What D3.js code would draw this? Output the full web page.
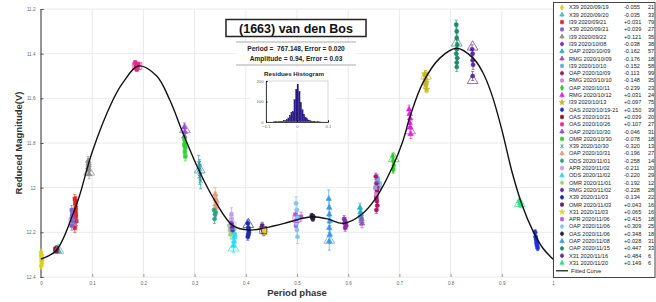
<!DOCTYPE html>
<html>
<head>
<meta charset="utf-8">
<script src="https://cdn.jsdelivr.net/npm/d3@7"></script>
<style>
  body { margin: 0; background: #fff; }
  svg { font-family: "Liberation Sans", Arial, sans-serif; }
</style>
</head>
<body>
<div id="chart-area"></div>
<script>
// ---- data ----
const xTicks = [0, 0.1, 0.2, 0.3, 0.4, 0.5, 0.6, 0.7, 0.8, 0.9, 1];
const yTicks = [11.2, 11.4, 11.6, 11.8, 12, 12.2, 12.4];

const curvePhase = [0, 0.03, 0.063, 0.076, 0.1, 0.14, 0.16, 0.19, 0.226, 0.252, 0.278, 0.31, 0.34, 0.375, 0.408, 0.437, 0.475, 0.506, 0.53, 0.56, 0.59, 0.626, 0.656, 0.688, 0.707, 0.721, 0.746, 0.779, 0.812, 0.844, 0.862, 0.88, 0.9, 0.92, 0.94, 0.96, 0.98, 1];
const curveMag = [12.32, 12.28, 12.115, 12.03, 11.84, 11.61, 11.53, 11.455, 11.5, 11.61, 11.76, 11.93, 12.06, 12.17, 12.19, 12.18, 12.16, 12.14, 12.13, 12.14, 12.16, 12.12, 12.04, 11.9, 11.79, 11.68, 11.53, 11.42, 11.376, 11.42, 11.48, 11.58, 11.74, 11.93, 12.08, 12.19, 12.27, 12.32];

const sessionNames = [
  "X39 2020/09/19", "X39 2020/09/20", "I39 2020/09/21", "X39 2020/09/21", "I39 2020/09/22",
  "I39 2020/10/08", "OAP 2020/10/09", "RMG 2020/10/09", "I39 2020/10/10", "OAP 2020/10/09",
  "RMG 2020/10/10", "OAP 2020/10/11", "RMG 2020/10/12", "I39 2020/10/13", "OAS 2020/10/19-21",
  "OAS 2020/10/21", "OAS 2020/10/26", "OAP 2020/10/30", "OMR 2020/10/30", "X39 2020/10/30",
  "OAP 2020/10/31", "ODS 2020/11/01", "APR 2020/11/02", "ODS 2020/11/02", "OMR 2020/11/01",
  "RMG 2020/11/02", "X39 2020/11/03", "OMR 2020/11/03", "X31 2020/11/03", "APR 2020/11/06",
  "OAP 2020/11/06", "OAS 2020/11/06", "OAP 2020/11/08", "OAP 2020/11/15", "X31 2020/11/16",
  "X31 2020/11/20"
];
const sessionOffsets = [
  "-0.055", "-0.035", "+0.031", "+0.039", "+0.121", "-0.038", "-0.162", "-0.176", "-0.152", "-0.113",
  "-0.148", "-0.239", "+0.031", "+0.097", "+0.150", "+0.039", "+0.107", "-0.046", "-0.078", "-0.320",
  "-0.196", "-0.258", "-0.211", "-0.220", "-0.192", "-0.228", "-0.134", "+0.043", "+0.065", "+0.415",
  "+0.309", "+0.348", "+0.028", "+0.447", "+0.484", "+0.149"
];
const sessionCounts = [21, 33, 79, 27, 35, 38, 57, 18, 58, 99, 35, 23, 24, 75, 39, 20, 27, 31, 18, 13,
  27, 14, 20, 29, 12, 28, 22, 16, 16, 18, 25, 18, 31, 33, 6, 6];

// [phase, reduced magnitude] of the plotted measurements, per session
const sessionPoints = [
  [[0.000, 12.29], [0.001, 12.30], [0.001, 12.31], [0.002, 12.32], [0.001, 12.33], [0.002, 12.34], [0.000, 12.35], [0.001, 12.32], [0.000, 12.305], [0.002, 12.325]],
  [[0.031, 12.275], [0.033, 12.28], [0.035, 12.285]],
  [[0.066, 12.05], [0.067, 12.07], [0.068, 12.09], [0.067, 12.11], [0.068, 12.13], [0.069, 12.15], [0.068, 12.12], [0.066, 12.18], [0.067, 12.10], [0.068, 12.06]],
  [[0.060, 12.10], [0.061, 12.13], [0.062, 12.15], [0.060, 12.17], [0.061, 12.12]],
  [[0.092, 11.88], [0.093, 11.90], [0.093, 11.92], [0.094, 11.94], [0.092, 11.91], [0.093, 11.89]],
  [[0.592, 12.14], [0.594, 12.15], [0.595, 12.16], [0.596, 12.17], [0.594, 12.18], [0.593, 12.16]],
  [[0.623, 12.09], [0.624, 12.11], [0.625, 12.13], [0.626, 12.15], [0.625, 12.12]],
  [[0.626, 12.14], [0.627, 12.16]],
  [[0.658, 11.96], [0.659, 11.98], [0.660, 12.00]],
  [[0.654, 11.95], [0.655, 11.98], [0.656, 12.00], [0.657, 12.02], [0.655, 12.04], [0.656, 12.06], [0.657, 12.08], [0.655, 12.10], [0.656, 12.01], [0.655, 12.05]],
  [[0.653, 12.00], [0.655, 12.03]],
  [[0.687, 11.86], [0.688, 11.88], [0.689, 11.90], [0.688, 11.92]],
  [[0.719, 11.65], [0.720, 11.67], [0.721, 11.69], [0.720, 11.71], [0.721, 11.73], [0.722, 11.76]],
  [[0.750, 11.49], [0.751, 11.50], [0.752, 11.52], [0.751, 11.54], [0.753, 11.56], [0.752, 11.53]],
  [[0.965, 12.20], [0.966, 12.22], [0.967, 12.23], [0.968, 12.25], [0.969, 12.26], [0.970, 12.27], [0.968, 12.24]],
  [[0.028, 12.275], [0.029, 12.28], [0.030, 12.285], [0.031, 12.27]],
  [[0.184, 11.44], [0.186, 11.45], [0.188, 11.46], [0.190, 11.45], [0.187, 11.47], [0.185, 11.455]],
  [[0.280, 11.73], [0.281, 11.75], [0.280, 11.77]],
  [[0.280, 11.78], [0.281, 11.80], [0.282, 11.82], [0.281, 11.84], [0.282, 11.86], [0.280, 11.81]],
  [[0.308, 11.89], [0.310, 11.91], [0.311, 11.93], [0.310, 11.95], [0.312, 11.97], [0.309, 11.92]],
  [[0.340, 12.03], [0.341, 12.05], [0.342, 12.07], [0.341, 12.09], [0.343, 12.06]],
  [[0.338, 12.10], [0.340, 12.12], [0.339, 12.14], [0.341, 12.11]],
  [[0.372, 12.14], [0.374, 12.17], [0.373, 12.20], [0.372, 12.12]],
  [[0.376, 12.18], [0.377, 12.20], [0.378, 12.22], [0.377, 12.24], [0.376, 12.26], [0.378, 12.21]],
  [[0.368, 12.17], [0.369, 12.19], [0.370, 12.21]],
  [[0.372, 12.16], [0.373, 12.18], [0.374, 12.19]],
  [[0.404, 12.16], [0.405, 12.18], [0.406, 12.20], [0.405, 12.21], [0.406, 12.19], [0.404, 12.22]],
  [[0.432, 12.17], [0.434, 12.19], [0.435, 12.20], [0.433, 12.18]],
  [[0.436, 12.185], [0.437, 12.19], [0.438, 12.20]],
  [[0.497, 12.12], [0.499, 12.15], [0.498, 12.17], [0.508, 12.13]],
  [[0.498, 12.07], [0.500, 12.10], [0.501, 12.13], [0.499, 12.16], [0.500, 12.19], [0.501, 12.22]],
  [[0.529, 12.125], [0.530, 12.135], [0.531, 12.14], [0.532, 12.13]],
  [[0.562, 12.05], [0.563, 12.09], [0.563, 12.12], [0.564, 12.15], [0.563, 12.18], [0.564, 12.21], [0.563, 12.24]],
  [[0.811, 11.27], [0.812, 11.30], [0.812, 11.33], [0.813, 11.36], [0.812, 11.38], [0.811, 11.40], [0.813, 11.42], [0.812, 11.44], [0.812, 11.46]],
  [[0.842, 11.38], [0.843, 11.40], [0.843, 11.43], [0.844, 11.45], [0.843, 11.50]],
  [[0.934, 12.06], [0.936, 12.07], [0.937, 12.08]]
];
const sessionErrors = [0.015, 0.01, 0.02, 0.02, 0.02, 0.015, 0.02, 0.02, 0.02, 0.015, 0.02, 0.015, 0.02, 0.015, 0.012,
  0.01, 0.01, 0.02, 0.02, 0.035, 0.03, 0.02, 0.03, 0.03, 0.02, 0.02, 0.015, 0.015, 0.01, 0.02, 0.03, 0.01, 0.04,
  0.02, 0.02, 0.01];

// big open markers seen in the clusters: [phase, mag, session]
const bigMarks = [
  [0.034, 12.28, 1], [0.062, 12.15, 3], [0.094, 11.93, 4], [0.186, 11.455, 16], [0.190, 11.455, 16],
  [0.281, 11.74, 17], [0.31, 11.92, 19], [0.374, 12.17, 22], [0.376, 12.27, 23], [0.405, 12.165, 26],
  [0.434, 12.19, 27], [0.499, 12.14, 29], [0.563, 12.235, 32], [0.658, 11.99, 8], [0.689, 11.87, 11],
  [0.721, 11.745, 12], [0.752, 11.5, 13], [0.812, 11.352, 33], [0.843, 11.37, 34], [0.843, 11.52, 34],
  [0.935, 12.07, 35]
];

const histBins = [-0.075, -0.07, -0.065, -0.06, -0.055, -0.05, -0.045, -0.04, -0.035, -0.03, -0.025, -0.02, -0.015, -0.01, -0.005,
  0, 0.005, 0.01, 0.015, 0.02, 0.025, 0.03, 0.035, 0.04, 0.045, 0.05, 0.055, 0.06, 0.065, 0.07];
const histCounts = [1, 2, 2, 3, 3, 4, 6, 8, 12, 20, 32, 48, 52, 110, 160, 185, 150, 95, 60, 38, 24, 16, 10, 7, 5, 4, 3, 2, 2, 1];
const histXTicks = [-0.1, 0, 0.1];
const histYTicks = [0, 100, 200];

// ---- styles ----
const colors = ["#d6d21c", "#4fb3d4", "#e3231f", "#7f63d4", "#8f8f8f", "#8c2aa8", "#1fb5c6", "#a64fb8", "#64a6e6", "#a8186a",
  "#e07ccc", "#24d024", "#e41ee4", "#c6b51e", "#1b2fe6", "#9b1026", "#e52a8e", "#9450d4", "#30d430", "#1d8896",
  "#e89a7c", "#2fa284", "#c79de8", "#25def0", "#98d47a", "#6a2c9c", "#1e2aa6", "#5a1f8c", "#e6d31f", "#b35ad8",
  "#80c6ea", "#2c1c4c", "#3b9be4", "#1e8a6a", "#5c2c98", "#2fe08a"];
const shapes = ["diamond", "triangle", "square", "square", "triangle", "circle", "triangle", "triangle", "square", "circle",
  "square", "diamond", "triangle", "star", "circle", "square", "square", "triangle", "square", "times",
  "triangle", "circle", "square", "triangle", "circle", "circle", "circle", "square", "star", "square",
  "circle", "circle", "triangle", "circle", "circle", "triangle"];
const symbolFor = {
  diamond: d3.symbolDiamond,
  triangle: d3.symbolTriangle,
  square: d3.symbolSquare,
  circle: d3.symbolCircle,
  star: d3.symbolStar,
  times: d3.symbolTimes || d3.symbolCross
};

const W = 656, H = 302;
const svg = d3.select("#chart-area").append("svg").attr("width", W).attr("height", H);

// Scales
const x = d3.scaleLinear().domain([0, 1]).range([41, 553]);
const y = d3.scaleLinear().domain([11.2, 12.4]).range([9, 277]);

// grid
svg.append("g").selectAll("line").data(xTicks).join("line")
  .attr("x1", d => x(d)).attr("x2", d => x(d))
  .attr("y1", y(11.2)).attr("y2", y(12.4))
  .attr("stroke", "#e4e4e4").attr("stroke-width", 0.8);
svg.append("g").selectAll("line").data(yTicks).join("line")
  .attr("x1", x(0)).attr("x2", x(1))
  .attr("y1", d => y(d)).attr("y2", d => y(d))
  .attr("stroke", "#e4e4e4").attr("stroke-width", 0.8);

// Y axis
const yAxis = svg.append("g")
  .attr("transform", `translate(${x(0) - 0.5},0)`)
  .call(d3.axisLeft(y).tickValues(yTicks).tickSize(-3).tickPadding(5).tickFormat(d3.format("")));
yAxis.select(".domain").attr("stroke", "#555").attr("stroke-width", 1.2);
yAxis.selectAll(".tick line").attr("stroke", "#555");
yAxis.selectAll("text").attr("font-size", "4.6px").attr("fill", "#666");

// X axis
const xAxis = svg.append("g")
  .attr("transform", `translate(0,${y(12.4)})`)
  .call(d3.axisBottom(x).tickValues(xTicks).tickSize(-3).tickPadding(5).tickFormat(d3.format("")));
xAxis.select(".domain").remove();
xAxis.selectAll(".tick line").attr("stroke", "#999");
xAxis.selectAll("text").attr("font-size", "4.6px").attr("fill", "#666");

// axis labels
svg.append("text")
  .attr("x", 297).attr("y", 296)
  .attr("text-anchor", "middle")
  .attr("font-size", "9.5px").attr("font-weight", "bold").attr("fill", "#333")
  .text("Period phase");
svg.append("text")
  .attr("transform", `translate(22,${(y(11.2) + y(12.4)) / 2}) rotate(-90)`)
  .attr("text-anchor", "middle")
  .attr("font-size", "9.5px").attr("font-weight", "bold").attr("fill", "#333")
  .text("Reduced Magnitude(V)");

// measurements: error bars then markers
const pts = [];
sessionPoints.forEach((list, i) => list.forEach(p => pts.push({ phase: p[0], mag: p[1], s: i })));

const bars = svg.append("g").selectAll("g").data(pts).join("g")
  .attr("stroke", d => colors[d.s]).attr("stroke-width", 0.8).attr("opacity", 0.8);
bars.append("line")
  .attr("x1", d => x(d.phase)).attr("x2", d => x(d.phase))
  .attr("y1", d => y(d.mag - sessionErrors[d.s])).attr("y2", d => y(d.mag + sessionErrors[d.s]));
[-1, 1].forEach(k => {
  bars.append("line")
    .attr("x1", d => x(d.phase) - 1.5).attr("x2", d => x(d.phase) + 1.5)
    .attr("y1", d => y(d.mag + k * sessionErrors[d.s])).attr("y2", d => y(d.mag + k * sessionErrors[d.s]));
});

svg.append("g").selectAll("path").data(pts).join("path")
  .attr("transform", d => `translate(${x(d.phase)},${y(d.mag)})`)
  .attr("d", d => d3.symbol(symbolFor[shapes[d.s]], 13)())
  .attr("fill", d => shapes[d.s] === "times" ? "none" : colors[d.s])
  .attr("stroke", d => colors[d.s]).attr("stroke-width", 0.6);

svg.append("g").selectAll("path").data(bigMarks).join("path")
  .attr("transform", d => `translate(${x(d[0])},${y(d[1])})`)
  .attr("d", d => d3.symbol(shapes[d[2]] === "square" ? d3.symbolSquare : d3.symbolTriangle, 50)())
  .attr("fill", "none")
  .attr("stroke", d => colors[d[2]]).attr("stroke-width", 0.8).attr("opacity", 0.85);

// Fitted curve
const line = d3.line()
  .x((d, i) => x(curvePhase[i]))
  .y(d => y(d))
  .curve(d3.curveCatmullRom.alpha(0.5));
svg.append("path")
  .datum(curveMag)
  .attr("d", line)
  .attr("fill", "none").attr("stroke", "#111").attr("stroke-width", 1.4);

// Title box
svg.append("rect")
  .attr("x", 226).attr("y", 19.5).attr("width", 140).attr("height", 17)
  .attr("fill", "#fff").attr("stroke", "#222").attr("stroke-width", 1.5);
svg.append("text")
  .attr("x", 296).attr("y", 32.5).attr("text-anchor", "middle")
  .attr("font-size", "12.5px").attr("font-weight", "bold").attr("fill", "#111")
  .text("(1663) van den Bos");

// period / amplitude block
svg.append("rect")
  .attr("x", 236).attr("y", 42).attr("width", 120).attr("height", 23)
  .attr("fill", "#fff");
[42, 65].forEach(yy => {
  svg.append("line")
    .attr("x1", 236).attr("x2", 356).attr("y1", yy).attr("y2", yy)
    .attr("stroke", "#aaa").attr("stroke-width", 1);
});
svg.append("text")
  .attr("x", 296).attr("y", 51).attr("text-anchor", "middle")
  .attr("font-size", "6.6px").attr("font-weight", "bold").attr("fill", "#222")
  .attr("xml:space", "preserve")
  .text("Period =  767.148, Error = 0.020");
svg.append("text")
  .attr("x", 296).attr("y", 60.5).attr("text-anchor", "middle")
  .attr("font-size", "6.6px").attr("font-weight", "bold").attr("fill", "#222")
  .text("Amplitude = 0.94, Error = 0.03");

// Residues histogram
const hx = d3.scaleLinear().domain([-0.1, 0.1]).range([266, 328]);
const hy = d3.scaleLinear().domain([0, 200]).range([122, 81]);
svg.append("rect")
  .attr("x", 250).attr("y", 67).attr("width", 86).attr("height", 64)
  .attr("fill", "#fff");
svg.append("text")
  .attr("x", 294).attr("y", 75.5).attr("text-anchor", "middle")
  .attr("font-size", "6.2px").attr("font-weight", "bold").attr("fill", "#222")
  .text("Residues Histogram");
svg.append("g").selectAll("rect").data(histCounts).join("rect")
  .attr("x", (d, i) => hx(histBins[i]))
  .attr("width", hx(0.005) - hx(0))
  .attr("y", d => hy(d))
  .attr("height", d => hy(0) - hy(d))
  .attr("fill", "#2a1c8c").attr("stroke", "#1a1060").attr("stroke-width", 0.2);
svg.append("rect")
  .attr("x", hx(-0.1)).attr("y", hy(200)).attr("width", hx(0.1) - hx(-0.1)).attr("height", hy(0) - hy(200))
  .attr("fill", "none").attr("stroke", "#bbb").attr("stroke-width", 0.6);
const hyAxis = svg.append("g")
  .attr("transform", `translate(${hx(-0.1)},0)`)
  .call(d3.axisLeft(hy).tickValues(histYTicks).tickSize(-1.5).tickPadding(2.5));
hyAxis.select(".domain").attr("stroke", "#444");
hyAxis.selectAll("text").attr("font-size", "4.2px").attr("fill", "#666");
const hxAxis = svg.append("g")
  .attr("transform", `translate(0,${hy(0)})`)
  .call(d3.axisBottom(hx).tickValues(histXTicks).tickSize(-1.5).tickPadding(3.5).tickFormat(d3.format("")));
hxAxis.select(".domain").attr("stroke", "#444");
hxAxis.selectAll("text").attr("font-size", "4.2px").attr("fill", "#666");

// Legend
const legend = svg.append("g");
legend.append("rect")
  .attr("x", 553.5).attr("y", 2.5).attr("width", 101.5).attr("height", 275)
  .attr("fill", "#fff").attr("stroke", "#444").attr("stroke-width", 1);
const rowY = i => 7.5 + i * 7.3;
const rows = legend.selectAll("g.row").data(sessionNames).join("g").attr("class", "row")
  .attr("transform", (d, i) => `translate(0,${rowY(i)})`);
rows.append("line")
  .attr("x1", 562).attr("x2", 562).attr("y1", -2.5).attr("y2", 2.5)
  .attr("stroke", (d, i) => colors[i]).attr("stroke-width", 0.7);
rows.append("path")
  .attr("transform", "translate(562,0)")
  .attr("d", (d, i) => d3.symbol(symbolFor[shapes[i]], 9)())
  .attr("fill", (d, i) => shapes[i] === "times" ? "none" : colors[i])
  .attr("stroke", (d, i) => colors[i]).attr("stroke-width", 0.6);
rows.append("text")
  .attr("x", 569).attr("dy", "0.35em")
  .attr("font-size", "5.6px").attr("fill", "#1a1a1a")
  .text(d => d);
rows.append("text")
  .attr("x", 624).attr("dy", "0.35em")
  .attr("font-size", "5.6px").attr("fill", "#1a1a1a")
  .text((d, i) => sessionOffsets[i]);
rows.append("text")
  .attr("x", 648).attr("dy", "0.35em")
  .attr("font-size", "5.6px").attr("fill", "#1a1a1a")
  .text((d, i) => sessionCounts[i]);
const fitY = rowY(sessionNames.length) + 0.5;
legend.append("line")
  .attr("x1", 556).attr("x2", 568).attr("y1", fitY).attr("y2", fitY)
  .attr("stroke", "#111").attr("stroke-width", 1.2);
legend.append("text")
  .attr("x", 571).attr("y", fitY).attr("dy", "0.35em")
  .attr("font-size", "5.6px").attr("fill", "#1a1a1a")
  .text("Fitted Curve");
</script>
</body>
</html>
